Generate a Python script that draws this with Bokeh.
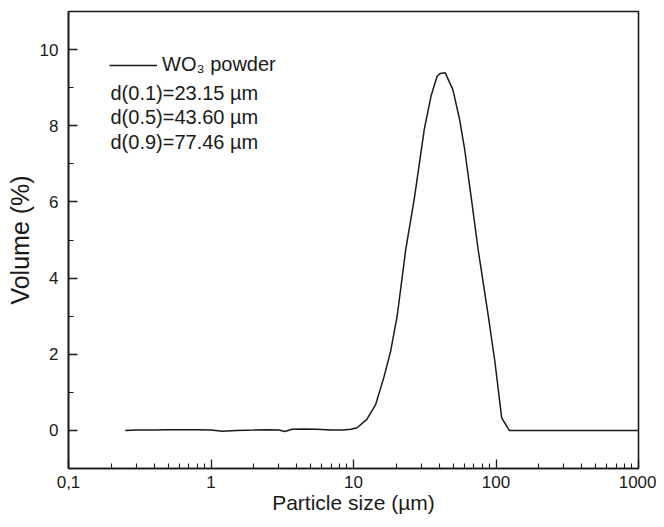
from bokeh.plotting import figure
from bokeh.models import FixedTicker, Label, Legend, LegendItem, Range1d
from bokeh.embed import file_html
from bokeh.resources import INLINE

# ---- data ----
size_um = [0.25, 0.3, 0.4, 0.5, 0.63, 0.8, 1.0, 1.2, 1.5, 2.0, 2.5, 3.0, 3.3,
           3.7, 4.5, 5.5, 7.0, 8.5, 9.6, 10.6, 12.4, 14.3, 16.3, 18.2, 20.3,
           23.3, 26.7, 31.4, 35.0, 38.6, 40.5, 44.0, 49.8, 55.5, 60.2, 67.2,
           74.8, 88.1, 98.2, 109.6, 124.0, 150.0, 200.0, 300.0, 500.0, 1000.0]
volume_pct = [0.00, 0.01, 0.01, 0.02, 0.02, 0.02, 0.01, -0.02, 0.00, 0.01, 0.02,
              0.01, -0.03, 0.03, 0.04, 0.03, 0.01, 0.01, 0.03, 0.07, 0.29, 0.68,
              1.38, 2.07, 3.03, 4.77, 6.08, 7.91, 8.78, 9.30, 9.37, 9.39, 8.95,
              8.17, 7.39, 6.08, 4.77, 3.03, 1.81, 0.33, 0.00, 0.00, 0.00, 0.00,
              0.00, 0.00]

x_major = [0.1, 1, 10, 100, 1000]
x_major_labels = ["0,1", "1", "10", "100", "1000"]
x_minor = [0.2, 0.3, 0.4, 0.5, 0.6, 0.7, 0.8, 0.9,
           2, 3, 4, 5, 6, 7, 8, 9,
           20, 30, 40, 50, 60, 70, 80, 90,
           200, 300, 400, 500, 600, 700, 800, 900]
y_major = [0, 2, 4, 6, 8, 10]
y_minor = [1, 3, 5, 7, 9]

series_name = "WO\u2083 powder"
d_values = ["d(0.1)=23.15 \u00b5m", "d(0.5)=43.60 \u00b5m", "d(0.9)=77.46 \u00b5m"]

x_title = "Particle size (\u00b5m)"
y_title = "Volume (%)"

FONT = "Liberation Sans"
INK = "#1a1a1a"

p = figure(width=656, height=519, x_axis_type="log",
           x_range=Range1d(0.1, 1000), y_range=Range1d(-1, 11),
           output_backend="svg", toolbar_location=None,
           min_border_left=68, min_border_right=18,
           min_border_top=11, min_border_bottom=51)

p.xgrid.visible = False
p.ygrid.visible = False
p.outline_line_color = INK
p.outline_line_width = 1.6
p.outline_line_alpha = 1.0
p.background_fill_color = "white"
p.border_fill_color = "white"

r = p.line(size_um, volume_pct, line_color=INK, line_width=1.5)

for ax in (p.xaxis[0], p.yaxis[0]):
    ax.axis_line_color = INK
    ax.axis_line_width = 1.6
    ax.major_tick_line_color = INK
    ax.minor_tick_line_color = INK
    ax.major_tick_line_width = 1.3
    ax.minor_tick_line_width = 1.1
    ax.major_tick_in = 9
    ax.major_tick_out = 0
    ax.minor_tick_in = 5
    ax.minor_tick_out = 0
    ax.major_label_text_font = FONT
    ax.major_label_text_font_size = "17px"
    ax.major_label_text_color = INK
    ax.axis_label_text_font = FONT
    ax.axis_label_text_font_style = "normal"
    ax.axis_label_text_color = INK

p.xaxis.ticker = FixedTicker(ticks=x_major, minor_ticks=x_minor)
p.xaxis.major_label_overrides = dict(zip(x_major, x_major_labels))
p.xaxis.axis_label = x_title
p.xaxis.axis_label_text_font_size = "21px"
p.xaxis.major_label_standoff = 7
p.xaxis.axis_label_standoff = 0

p.yaxis.ticker = FixedTicker(ticks=y_major, minor_ticks=y_minor)
p.yaxis.axis_label = y_title
p.yaxis.axis_label_text_font_size = "25px"
p.yaxis.major_label_standoff = 10
p.yaxis.axis_label_standoff = 3

legend = Legend(items=[LegendItem(label=series_name, renderers=[r])],
                location=(41, 392), glyph_width=48, glyph_height=20,
                label_height=20, label_standoff=5, padding=0, margin=0,
                border_line_color=None, background_fill_alpha=0,
                label_text_font=FONT, label_text_font_size="20px",
                label_text_color=INK)
p.add_layout(legend)

for i, txt in enumerate(d_values):
    p.add_layout(Label(x=42, y=376 - 24.5 * i, x_units="screen", y_units="screen",
                       text=txt, text_baseline="middle", text_font=FONT,
                       text_font_size="20px", text_color=INK))

open("out.html", "w").write(file_html(p, INLINE))
